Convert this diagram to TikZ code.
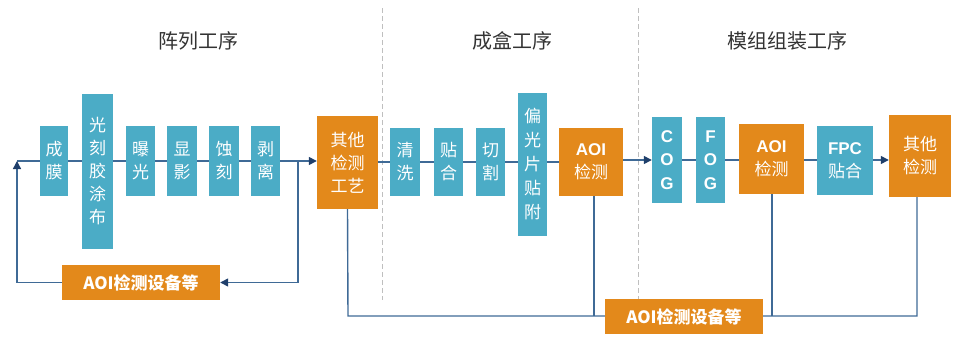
\documentclass[tikz,border=0pt]{standalone}
\usepackage{fontspec}
\setmainfont{Liberation Sans}
\newfontfamily\cjk{Noto Sans CJK SC}
\usetikzlibrary{arrows.meta}
\definecolor{cblue}{HTML}{4BACC6}
\definecolor{corange}{HTML}{E3891B}
\definecolor{cline}{HTML}{3F6A96}
\definecolor{carrow}{HTML}{1F3F6B}
\definecolor{ctitle}{HTML}{333333}
\definecolor{cdash}{HTML}{BFBFBF}
\tikzset{
  blu/.style={fill=cblue, text=white, inner sep=0pt, align=center, font=\cjk\fontsize{17}{23}\selectfont},
  org/.style={fill=corange, text=white, inner sep=0pt, align=center, font=\cjk\fontsize{17}{23}\selectfont},
  latv/.style={font=\rmfamily\bfseries\fontsize{17}{23.5}\selectfont},
  ln/.style={draw=cline, line width=1.4pt},
  arr/.style={ln, -{Triangle[length=8pt,width=8pt,color=carrow]}},
  sep/.style={draw=cdash, line width=1pt, dash pattern=on 5pt off 3pt},
  ttl/.style={text=ctitle, font=\cjk\fontsize{20}{22}\selectfont},
}
\newcommand\bx[7]{\node[#6, minimum width={(#4)-(#2)}, minimum height={(#5)-(#3)}] (#1) at ({((#2)+(#4))/2},{((#3)+(#5))/2}) {#7};}
\newcommand\lat[1]{{\fontsize{17}{25}\selectfont\bfseries\rmfamily #1}}
\begin{document}
\begin{tikzpicture}[x=1pt,y=-1pt]
\useasboundingbox (0,0) rectangle (954,338);
% separators
\coordinate (s1t) at (382,8); \coordinate (s1b) at (382,300);
\coordinate (s2t) at (638,8); \coordinate (s2b) at (638,300);
\draw[sep] (s1t) -- (s1b);
\draw[sep] (s2t) -- (s2b);
% titles
\node[ttl] (t1) at (198,41) {阵列工序};
\node[ttl] (t2) at (512,41) {成盒工序};
\node[ttl] (t3) at (787,41) {模组组装工序};
% coordinates of loops
\coordinate (L) at (17,161);
\coordinate (R) at (298,161);
% lines first (boxes drawn above)
\draw[ln] (L) -- (R);
% boxes section 1
\bx{cm}{40}{126}{68}{196}{blu}{成\\膜}
\bx{gk}{82}{94}{113}{249}{blu}{光\\刻\\胶\\涂\\布}
\bx{bg}{126}{126}{155}{196}{blu}{曝\\光}
\bx{xy}{167}{126}{197}{196}{blu}{显\\影}
\bx{sk}{209}{126}{239}{196}{blu}{蚀\\刻}
\bx{bl}{251}{126}{280}{196}{blu}{剥\\离}
\bx{qt1}{317}{116}{378}{209}{org}{其他\\检测\\工艺}
% section 2
\bx{qx}{390}{128}{420}{196}{blu}{清\\洗}
\bx{th}{434}{128}{463}{196}{blu}{贴\\合}
\bx{qg}{476}{128}{505}{196}{blu}{切\\割}
\bx{pg}{518}{93}{547}{236}{blu, font=\cjk\fontsize{17}{24}\selectfont}{偏\\光\\片\\贴\\附}
\bx{aoi1}{559}{128}{623}{196}{org}{\lat{AOI}\\检测}
% section 3
\bx{cog}{652}{117}{682}{203}{blu, latv}{C\\O\\G}
\bx{fog}{696}{117}{725}{203}{blu, latv}{F\\O\\G}
\bx{aoi2}{739}{124}{804}{194}{org}{\lat{AOI}\\检测}
\bx{fpc}{817}{126}{873}{195}{blu}{\lat{FPC}\\贴合}
\bx{qt2}{889}{115}{951}{197}{org}{其他\\检测}
% connectors section 1/2
\draw[arr] (R) -- (R -| qt1.west);
\draw[ln] (qt1.east |- qx) -- (qx.west);
\draw[ln] (qx.east) -- (th.west);
\draw[ln] (th.east) -- (qg.west);
\draw[ln] (qg.east) -- (qg.east -| pg.west);
\draw[ln] (pg.east |- aoi1) -- (aoi1.west);
\draw[arr] (aoi1.east |- cog) -- (cog.west);
% section 3
\draw[ln] (cog.east) -- (fog.west);
\draw[ln] (fog.east) -- (fog.east -| aoi2.west);
\draw[ln] (aoi2.east |- cog) -- (fpc.west |- cog);
\draw[arr] (fpc.east |- cog) -- (qt2.west |- cog);
% bottom feedback
\bx{eq1}{62}{265}{220}{300}{org}{\bfseries\fontsize{17}{20}\selectfont AOI\cjk 检测设备等}
\draw[arr] (eq1.west) -| (L);
\draw[arr] (R) |- (eq1.east);
\coordinate (B) at (348,316);
\draw[ln] (qt1.south) -- (B) -- ([xshift=-3pt]qt2.south |- B) -- ([xshift=-3pt]qt2.south);
\draw[ln] ([xshift=3pt]aoi1.south) -- ([xshift=3pt]aoi1.south |- B);
\draw[ln] ([xshift=0.5pt]aoi2.south) -- ([xshift=0.5pt]aoi2.south |- B);
\bx{eq2}{605}{299}{763}{334}{org}{\bfseries\fontsize{17}{20}\selectfont AOI\cjk 检测设备等}
\end{tikzpicture}
\end{document}
